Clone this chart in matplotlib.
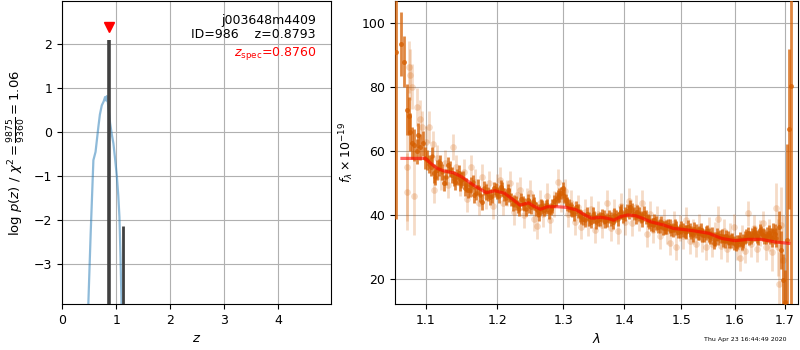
import matplotlib
matplotlib.use("Agg")
import matplotlib.pyplot as plt
import numpy as np

# ---------------- left panel: p(z) ----------------
pz_z = [0.470, 0.487, 0.53, 0.58, 0.62, 0.672, 0.70, 0.735, 0.77, 0.796, 0.815, 0.827, 0.845,
        0.889, 0.92, 0.95, 0.98, 1.013, 1.04, 1.061, 1.08, 1.098, 1.11]
pz_log = [-6.0, -3.9, -2.3, -0.64, -0.45, 0.12, 0.40, 0.61, 0.70, 0.80, 0.72, 0.82, 0.70,
          0.20, -0.05, -0.26, -0.60, -1.00, -1.45, -1.93, -2.8, -3.8, -6.0]

bar_z = [0.867, 1.135]
bar_top = [2.09, -2.14]
bar_width = [2.6, 2.0]

z_spec = 0.8760
z_best = 0.8793
obj_name = "j003648m4409"
obj_id = 986
chi2_num, chi2_den, chi2_ratio = 9875, 9360, 1.06

# ---------------- right panel: spectrum ----------------
d_wave = [1.061, 1.068, 1.072, 1.075, 1.078, 1.080, 1.082, 1.085, 1.088, 1.090, 1.093, 1.097,
          1.099, 1.102, 1.107, 1.111, 1.115, 1.120, 1.125, 1.130, 1.136, 1.140, 1.145, 1.149,
          1.154, 1.158, 1.163, 1.167, 1.172, 1.178, 1.184, 1.190, 1.195, 1.200, 1.205, 1.210,
          1.215, 1.220, 1.225, 1.230, 1.235, 1.240, 1.245, 1.250, 1.255, 1.260, 1.265, 1.270,
          1.275, 1.280, 1.285, 1.291, 1.296, 1.299, 1.304, 1.309, 1.314, 1.320, 1.326, 1.332,
          1.338, 1.344, 1.350, 1.356, 1.362, 1.368, 1.374, 1.380, 1.386, 1.392, 1.398, 1.404,
          1.410, 1.416, 1.422, 1.428, 1.434, 1.440, 1.446, 1.452, 1.458, 1.464, 1.470, 1.476,
          1.482, 1.488, 1.494, 1.500, 1.506, 1.512, 1.518, 1.524, 1.530, 1.536, 1.542, 1.548,
          1.554, 1.560, 1.566, 1.572, 1.578, 1.584, 1.590, 1.596, 1.602, 1.608, 1.614, 1.620,
          1.626, 1.632, 1.638, 1.644, 1.650, 1.656, 1.662, 1.668, 1.674, 1.680, 1.6887, 1.6924,
          1.697, 1.700, 1.7055, 1.7095, 1.7135]
d_flux = [91.0, 93.7, 88.0, 73.0, 71.0, 66.0, 62.5, 62.0, 60.0, 65.0, 61.4, 62.5,
          58.0, 57.3, 55.2, 53.1, 54.2, 56.3, 50.2, 55.7, 52.6, 50.5, 53.1, 51.0,
          48.4, 47.9, 49.5, 46.3, 48.9, 44.3, 47.4, 45.8, 48.5, 47.0, 49.0, 46.5,
          47.8, 45.0, 44.5, 42.8, 45.0, 43.5, 44.8, 42.5, 43.8, 41.5, 43.0, 41.8,
          43.2, 42.0, 44.5, 45.8, 47.0, 48.4, 44.8, 43.0, 41.5, 42.5, 40.0, 39.0,
          40.5, 38.0, 39.5, 38.6, 40.0, 38.2, 39.6, 37.8, 39.8, 40.8, 39.5, 41.5,
          42.7, 40.5, 41.2, 39.5, 40.8, 38.5, 37.2, 38.4, 36.5, 37.8, 36.2, 37.0,
          35.4, 36.8, 34.8, 36.2, 35.0, 36.5, 34.6, 35.8, 34.4, 35.5, 33.8, 35.0,
          33.2, 31.5, 34.0, 33.5, 32.2, 33.4, 31.8, 32.6, 30.8, 32.0, 31.2, 33.0,
          34.5, 33.2, 34.8, 33.5, 35.4, 34.0, 33.2, 34.6, 33.0, 34.2, 36.4, 29.2,
          19.8, 13.0, 32.3, 67.0, 80.4]
d_err = [52.0, 10.0, 8.0, 8.0, 6.0, 6.0, 5.0, 5.0, 4.0, 4.0, 4.0, 4.0,
         3.5, 3.0, 3.0, 3.0, 3.0, 2.5, 2.5, 2.5, 2.5, 2.5, 2.5, 2.5,
         2.5, 2.5, 2.5, 2.5, 2.5, 2.5, 2.5, 2.5, 2.0, 2.0, 2.0, 2.0,
         2.0, 2.0, 2.0, 2.0, 2.0, 2.0, 2.0, 2.0, 2.0, 2.0, 2.0, 2.0,
         2.0, 2.0, 2.0, 2.0, 2.0, 2.0, 2.0, 2.0, 2.0, 2.0, 2.0, 2.0,
         2.0, 2.0, 2.0, 2.0, 2.0, 2.0, 2.0, 2.0, 2.0, 2.0, 2.0, 2.0,
         2.0, 2.0, 2.0, 2.0, 2.0, 2.0, 2.0, 2.0, 2.0, 2.0, 2.0, 2.0,
         2.0, 2.0, 2.0, 2.0, 2.0, 2.0, 2.0, 2.0, 2.0, 2.0, 2.0, 2.0,
         2.0, 2.0, 2.0, 2.0, 2.0, 2.0, 2.0, 2.0, 2.0, 2.0, 2.0, 2.0,
         2.0, 2.0, 2.0, 2.0, 2.0, 2.0, 2.0, 2.5, 3.0, 3.0, 5.0, 6.0,
         8.0, 10.0, 30.0, 25.0, 80.0]

# second set of well-measured pixels, interleaved with the first
d2_wave = [1.1045, 1.109, 1.113, 1.1175, 1.1225, 1.1275, 1.133, 1.138, 1.1425, 1.147,
           1.1515, 1.156, 1.1605, 1.165, 1.1695, 1.175, 1.181, 1.187, 1.1925, 1.1975,
           1.2025, 1.2075, 1.2125, 1.2175, 1.2225, 1.2275, 1.2325, 1.2375, 1.2425, 1.2475,
           1.2525, 1.2575, 1.2625, 1.2675, 1.2725, 1.2775, 1.2825, 1.288, 1.2935, 1.3015,
           1.3065, 1.3115, 1.317, 1.323, 1.329, 1.335, 1.341, 1.347, 1.353, 1.359,
           1.365, 1.371, 1.377, 1.383, 1.389, 1.395, 1.401, 1.407, 1.413, 1.419,
           1.425, 1.431, 1.437, 1.443, 1.449, 1.455, 1.461, 1.467, 1.473, 1.479,
           1.485, 1.491, 1.497, 1.503, 1.509, 1.515, 1.521, 1.527, 1.533, 1.539,
           1.545, 1.551, 1.557, 1.563, 1.569, 1.575, 1.581, 1.587, 1.593, 1.599,
           1.605, 1.611, 1.617, 1.623, 1.629, 1.635, 1.641, 1.647, 1.653, 1.659,
           1.665, 1.671, 1.677, 1.683]
d2_flux = [56.0, 58.5, 52.0, 55.0, 53.5, 52.0, 54.5, 51.5, 52.0, 50.0,
           51.5, 49.5, 48.0, 50.5, 47.0, 46.5, 48.5, 46.8, 46.0, 48.0,
           46.2, 48.2, 45.5, 46.5, 43.5, 44.0, 42.0, 44.0, 42.0, 43.0,
           44.5, 42.0, 40.5, 42.5, 42.5, 41.0, 43.0, 45.0, 46.5, 46.0,
           43.5, 42.0, 40.5, 41.5, 39.5, 38.5, 39.0, 40.5, 38.0, 39.0,
           39.5, 38.5, 38.8, 40.0, 39.0, 41.5, 40.5, 41.0, 41.8, 39.5,
           40.5, 38.5, 39.5, 38.0, 37.0, 37.5, 36.8, 36.0, 36.5, 36.8,
           35.5, 36.0, 35.0, 35.5, 34.8, 35.5, 34.0, 35.0, 34.6, 34.0,
           34.5, 33.8, 34.2, 32.5, 32.8, 33.5, 32.0, 32.8, 32.0, 31.5,
           31.8, 32.5, 32.0, 33.5, 33.0, 34.0, 34.2, 33.0, 34.5, 33.5,
           34.0, 33.5, 35.0, 33.0]
d2_err = [2.8, 2.8, 2.6, 2.6, 2.5, 2.5, 2.4, 2.4, 2.4, 2.3,
          2.3, 2.3, 2.3, 2.2, 2.2, 2.2, 2.2, 2.2, 2.2, 2.2,
          2.2, 2.2, 2.2, 2.2, 2.2, 2.2, 2.2, 2.2, 2.2, 2.2,
          2.2, 2.2, 2.2, 2.2, 2.2, 2.2, 2.2, 2.2, 2.2, 2.2,
          2.2, 2.2, 2.2, 2.2, 2.2, 2.2, 2.2, 2.2, 2.2, 2.2,
          2.2, 2.2, 2.2, 2.2, 2.2, 2.2, 2.2, 2.2, 2.2, 2.2,
          2.2, 2.2, 2.2, 2.2, 2.2, 2.2, 2.2, 2.2, 2.2, 2.2,
          2.2, 2.2, 2.2, 2.2, 2.2, 2.2, 2.2, 2.2, 2.2, 2.2,
          2.2, 2.2, 2.2, 2.2, 2.2, 2.2, 2.2, 2.2, 2.2, 2.2,
          2.2, 2.2, 2.2, 2.2, 2.2, 2.2, 2.2, 2.2, 2.2, 2.3,
          2.4, 2.5, 2.7, 3.0]

l_wave = [1.0757, 1.0760, 1.0778, 1.080, 1.082, 1.085, 1.089, 1.092, 1.0955, 1.100, 1.104,
          1.110, 1.112, 1.116, 1.121, 1.126, 1.131, 1.137, 1.142, 1.147, 1.152, 1.157, 1.162,
          1.168, 1.173, 1.178, 1.183, 1.188, 1.194, 1.199, 1.204, 1.209, 1.214, 1.219, 1.224,
          1.229, 1.234, 1.239, 1.244, 1.249, 1.254, 1.2596, 1.264, 1.269, 1.274, 1.279, 1.285,
          1.291, 1.296, 1.302, 1.307, 1.312, 1.318, 1.323, 1.329, 1.334, 1.340, 1.345, 1.351,
          1.356, 1.362, 1.371, 1.377, 1.383, 1.389, 1.395, 1.401, 1.407, 1.413, 1.419, 1.425,
          1.431, 1.438, 1.444, 1.450, 1.456, 1.462, 1.468, 1.474, 1.480, 1.486, 1.491, 1.497,
          1.503, 1.509, 1.515, 1.521, 1.527, 1.533, 1.539, 1.545, 1.551, 1.557, 1.562, 1.568,
          1.574, 1.580, 1.586, 1.592, 1.598, 1.604, 1.610, 1.615, 1.621, 1.627, 1.633, 1.639,
          1.645, 1.651, 1.657, 1.663, 1.669, 1.675, 1.682, 1.686, 1.689, 1.693, 1.697]
l_flux = [55.2, 47.4, 86.4, 84.0, 80.2, 46.0, 73.9, 70.0, 67.7, 63.0, 67.7,
          62.3, 48.0, 58.0, 52.0, 56.5, 49.5, 61.4, 55.0, 50.0, 53.5, 45.0, 55.0,
          50.5, 44.0, 52.0, 46.0, 50.0, 43.0, 49.0, 51.0, 44.0, 47.0, 50.0, 41.0,
          46.5, 48.0, 40.0, 44.5, 47.0, 39.0, 36.7, 44.0, 40.5, 46.0, 38.5, 43.5,
          50.5, 45.0, 47.5, 40.5, 44.0, 38.0, 42.5, 36.5, 41.0, 37.5, 42.0, 35.5,
          40.5, 37.0, 43.8, 36.0, 41.0, 35.0, 43.0, 38.0, 44.5, 37.5, 42.5, 39.0,
          44.0, 34.2, 40.5, 35.5, 39.0, 33.5, 38.0, 35.0, 31.5, 37.5, 30.2, 36.0,
          33.5, 38.5, 32.0, 35.0, 31.0, 36.5, 32.5, 30.0, 35.5, 31.0, 34.0, 39.0,
          30.5, 35.0, 29.5, 33.5, 36.5, 30.0, 26.6, 33.0, 29.0, 40.6, 31.0, 36.0,
          29.5, 34.5, 37.5, 30.0, 34.0, 28.5, 42.2, 30.0, 18.7, 37.0, 26.0]
l_err = [17.0, 12.0, 8.0, 8.0, 7.0, 12.0, 6.0, 6.0, 5.0, 5.0, 5.0,
         4.0, 4.0, 4.0, 4.0, 4.0, 4.0, 4.0, 4.0, 4.0, 4.0, 4.0, 4.0,
         4.0, 4.0, 4.0, 4.0, 4.0, 4.0, 4.0, 4.0, 4.0, 4.0, 4.0, 4.0,
         4.0, 4.0, 4.0, 4.0, 4.0, 4.0, 4.0, 4.0, 4.0, 4.0, 4.0, 4.0,
         4.0, 4.0, 4.0, 4.0, 4.0, 4.0, 4.0, 4.0, 4.0, 4.0, 4.0, 4.0,
         4.0, 4.0, 4.0, 4.0, 4.0, 4.0, 4.0, 4.0, 4.0, 4.0, 4.0, 4.0,
         4.0, 4.0, 4.0, 4.0, 4.0, 4.0, 4.0, 4.0, 4.0, 4.0, 4.0, 4.0,
         4.0, 4.0, 4.0, 4.0, 4.0, 4.0, 4.0, 4.0, 4.0, 4.0, 4.0, 4.0,
         4.0, 4.0, 4.0, 4.0, 4.0, 4.0, 4.0, 4.0, 4.0, 4.0, 4.0, 4.0,
         4.0, 4.0, 4.0, 4.0, 5.0, 6.0, 8.0, 9.0, 10.0, 12.0, 14.0]

m_wave = [1.069, 1.100, 1.1067, 1.1155, 1.1245, 1.138, 1.149, 1.1655, 1.184, 1.1965, 1.2107,
          1.2208, 1.2335, 1.2463, 1.254, 1.2646, 1.275, 1.291, 1.3045, 1.321, 1.3345, 1.3455,
          1.360, 1.371, 1.382, 1.3935, 1.405, 1.419, 1.431, 1.445, 1.468, 1.486, 1.504, 1.522,
          1.551, 1.575, 1.601, 1.627, 1.653, 1.680, 1.709]
m_flux = [57.8, 57.8, 56.3, 54.7, 53.9, 53.3, 52.1, 49.5, 47.1, 47.7, 46.9,
          45.3, 43.2, 43.9, 42.9, 41.9, 42.7, 42.7, 42.5, 41.7, 40.1, 39.1,
          39.4, 39.1, 38.5, 39.6, 40.1, 39.9, 39.1, 38.0, 37.0, 35.9, 35.6, 35.2,
          34.4, 32.8, 32.1, 32.5, 32.5, 31.7, 31.25]

wave_ticks = [1.1, 1.2, 1.3, 1.4, 1.5, 1.6, 1.7]
timestamp = "Thu Apr 23 16:44:49 2020"

G141_COLOR = (0.8352941, 0.3686274, 0.0)

fig = plt.figure(figsize=(8, 3.5), dpi=100)
ax1 = fig.add_axes([62/800, 1 - 304/350, 269/800, 303/350])
ax2 = fig.add_axes([395/800, 1 - 304/350, 403/800, 303/350])

# left panel
ax1.plot(pz_z, pz_log, color='tab:blue', alpha=0.5, lw=1.6, zorder=2)
for zb, zt, w in zip(bar_z, bar_top, bar_width):
    ax1.vlines(zb, -10, zt, color='0.25', lw=w, zorder=3)
ax1.plot([z_spec], [2.40], marker='v', color='red', ms=7, ls='None', zorder=4)
ax1.set_xlim(0, 4.97)
ax1.set_ylim(-3.92, 2.99)
ax1.set_xticks([0, 1, 2, 3, 4])
ax1.set_yticks([-3, -2, -1, 0, 1, 2])
ax1.grid(zorder=0)
ax1.set_axisbelow(True)
ax1.tick_params(labelsize=9)
ax1.set_xlabel('$z$', fontsize=9.5)
ax1.set_ylabel(r'log $p(z)$ / $\chi^2=\frac{%d}{%d}=%.2f$' % (chi2_num, chi2_den, chi2_ratio),
               fontsize=9.5)
ax1.text(0.944, 0.937, obj_name, transform=ax1.transAxes, ha='right', va='center', fontsize=9)
ax1.text(0.944, 0.888, 'ID=%d    z=%.4f' % (obj_id, z_best), transform=ax1.transAxes,
         ha='right', va='center', fontsize=9)
ax1.text(0.944, 0.828, r'$z_\mathrm{spec}$=%.4f' % z_spec, transform=ax1.transAxes,
         ha='right', va='center', fontsize=9, color='red')

# right panel
ax2.set_xscale('log')
ax2.errorbar(l_wave, l_flux, yerr=l_err, fmt='o', ms=4.8, color=G141_COLOR, alpha=0.22,
             elinewidth=2.0, capsize=0, mew=0, zorder=2)
ax2.errorbar(d_wave, d_flux, yerr=d_err, fmt='o', ms=3.6, color=G141_COLOR, alpha=0.75,
             elinewidth=2.0, capsize=0, mew=0, zorder=3)
ax2.errorbar(d2_wave, d2_flux, yerr=d2_err, fmt='o', ms=3.2, color=G141_COLOR, alpha=0.75,
             elinewidth=2.0, capsize=0, mew=0, zorder=3)
ax2.plot(m_wave, m_flux, color='red', lw=2.3, alpha=0.6, zorder=4)
ax2.set_xlim(1.06, 1.728)
ax2.set_ylim(12.3, 107)
ax2.set_xticks(wave_ticks)
ax2.xaxis.set_major_formatter(matplotlib.ticker.FormatStrFormatter('%.1f'))
ax2.xaxis.set_minor_locator(matplotlib.ticker.NullLocator())
ax2.set_yticks([20, 40, 60, 80, 100])
ax2.grid(zorder=0)
ax2.set_axisbelow(True)
ax2.tick_params(labelsize=9)
ax2.set_xlabel(r'$\lambda$', fontsize=9.5)
ax2.set_ylabel(r'$f_\lambda \times 10^{-19}$', fontsize=9)

fig.text(787/800, 0.029, timestamp, ha='right', va='center', fontsize=4.5)

fig.savefig('out.png', dpi=100)
